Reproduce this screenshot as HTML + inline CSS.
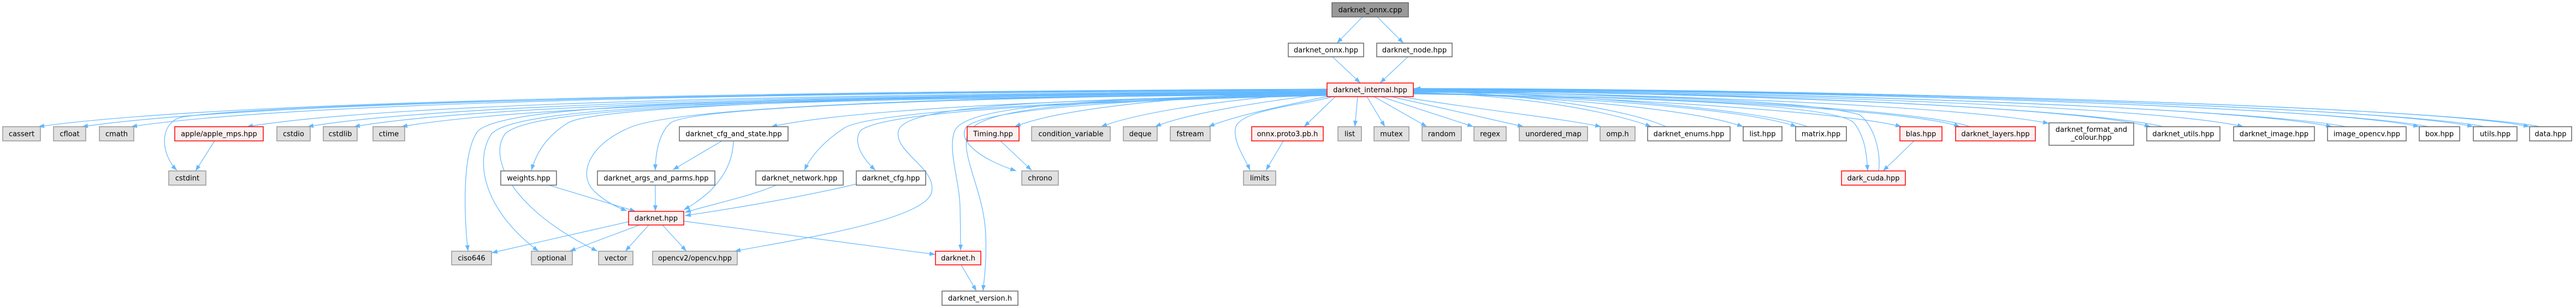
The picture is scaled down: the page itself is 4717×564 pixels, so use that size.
<!DOCTYPE html>
<html>
<head>
<meta charset="utf-8">
<style>
html,body{margin:0;padding:0;background:#fff;}
svg{display:block;}
text{font-family:"DejaVu Sans","Liberation Sans",sans-serif;font-size:13px;fill:#000;text-anchor:middle;}
.e{fill:none;stroke:#63b8ff;stroke-width:1.2;}
.g{fill:#e0e0e0;stroke:#999999;stroke-width:1.5;}
.w{fill:#ffffff;stroke:#666666;stroke-width:1.5;}
.r{fill:#fff0f0;stroke:#ff0000;stroke-width:1.5;}
.k{fill:#999999;stroke:#666666;stroke-width:1.5;}
</style>
</head>
<body>
<svg width="4717" height="564" viewBox="0 0 4717 564" xmlns="http://www.w3.org/2000/svg">
<defs>
<marker id="a" markerWidth="11" markerHeight="8" refX="11" refY="4" orient="auto" markerUnits="userSpaceOnUse">
<path d="M0,0 L11,4 L0,8 z" fill="#63b8ff"/>
</marker>
</defs>
<rect x="0" y="0" width="4717" height="564" fill="#ffffff"/>

<g class="edges" marker-end="url(#a)">
<!-- top -->
<path class="e" marker-end="url(#a)" d="M2495,31 L2448,79"/>
<path class="e" marker-end="url(#a)" d="M2522,31 L2570,79"/>
<path class="e" marker-end="url(#a)" d="M2440,104 L2491,152"/>
<path class="e" marker-end="url(#a)" d="M2578,104 L2527,152"/>

<!-- internal -> left -->
<path class="e" marker-end="url(#a)" d="M2430,163 C1132,169 353,192 70,232"/>
<path class="e" marker-end="url(#a)" d="M2430,164 C1176,170 424,192 150,232"/>
<path class="e" marker-end="url(#a)" d="M2430,165 C1226,171 503,192 240,232"/>
<path class="e" marker-end="url(#a)" d="M2430,166 C1300,170 500,190 335,214 C292,222 292,280 324,312"/>
<path class="e" marker-end="url(#a)" d="M2430,167 C1342,173 689,193 452,232"/>
<path class="e" marker-end="url(#a)" d="M2430,168 C1403,174 787,194 563,232"/>
<path class="e" marker-end="url(#a)" d="M2430,169 C1450,175 862,195 648,232"/>
<path class="e" marker-end="url(#a)" d="M2430,170 C1498,176 938,196 735,232"/>
<path class="e" marker-end="url(#a)" d="M2430,171 C1400,178 930,188 875,240 C845,280 850,400 857,460"/>
<path class="e" marker-end="url(#a)" d="M2430,172 C1400,180 950,192 900,245 C870,290 880,380 986,460"/>
<path class="e" marker-end="url(#a)" d="M2430,173 C1400,181 975,195 925,245 C895,285 930,380 1094,460"/>
<path class="e" marker-end="url(#a)" d="M2430,168 C1600,175 1090,195 1040,225 C1000,250 982,280 973,312"/>
<path class="e" marker-end="url(#a)" d="M2430,170 C1650,178 1220,200 1150,235 C1080,265 1055,320 1090,352 C1110,370 1130,380 1148,386"/>
<path class="e" marker-end="url(#a)" d="M2430,171 C1700,179 1265,198 1228,225 C1205,245 1200,285 1200,312"/>
<path class="e" marker-end="url(#a)" d="M2430,173 C1950,182 1560,200 1412,232"/>
<path class="e" marker-end="url(#a)" d="M2430,174 C1950,184 1590,205 1545,235 C1510,258 1485,285 1473,312"/>
<path class="e" marker-end="url(#a)" d="M2430,175 C1950,186 1610,205 1575,240 C1560,265 1585,295 1603,312"/>
<path class="e" marker-end="url(#a)" d="M2430,174 C1850,182 1655,198 1645,240 C1637,280 1720,310 1705,355 C1685,405 1450,440 1345,460"/>
<path class="e" marker-end="url(#a)" d="M2430,172 C1950,180 1765,198 1748,240 C1735,275 1757,330 1758,380 C1759,420 1759,440 1759,459"/>
<path class="e" marker-end="url(#a)" d="M2430,173 C1960,181 1790,200 1772,245 C1758,285 1802,350 1805,430 C1807,480 1802,510 1800,533"/>
<path class="e" marker-end="url(#a)" d="M2430,174 C2000,182 1800,205 1770,232 C1752,255 1790,290 1861,313"/>
<path class="e" marker-end="url(#a)" d="M2430,167 C2200,174 1950,195 1858,232"/>
<path class="e" marker-end="url(#a)" d="M2430,169 C2290,178 2100,200 2016,232"/>
<path class="e" marker-end="url(#a)" d="M2430,172 C2340,182 2180,205 2115,232"/>
<path class="e" marker-end="url(#a)" d="M2432,176 C2370,190 2265,210 2213,232"/>
<path class="e" marker-end="url(#a)" d="M2440,177 C2390,192 2275,200 2263,232 C2256,258 2280,290 2289,312"/>

<!-- internal -> near right -->
<path class="e" marker-end="url(#a)" d="M2445,177 L2388,232"/>
<path class="e" marker-end="url(#a)" d="M2486,177 L2481,232"/>
<path class="e" marker-end="url(#a)" d="M2503,177 L2536,232"/>
<path class="e" marker-end="url(#a)" d="M2516,177 L2613,232"/>
<path class="e" marker-end="url(#a)" d="M2529,177 L2698,232"/>
<path class="e" marker-end="url(#a)" d="M2548,177 L2790,232"/>
<path class="e" marker-end="url(#a)" d="M2565,177 C2700,200 2850,215 2932,232"/>

<!-- internal -> far right -->
<path class="e" marker-end="url(#a)" d="M2588,169 C2800,175 2950,205 3024,232"/>
<path class="e" marker-end="url(#a)" d="M2588,170 C2850,177 3100,200 3192,232"/>
<path class="e" marker-end="url(#a)" d="M2588,171 C2900,177 3200,200 3290,232"/>
<path class="e" marker-end="url(#a)" d="M2588,170 C2950,177 3380,205 3482,232"/>
<path class="e" marker-end="url(#a)" d="M2588,168 C3000,175 3500,200 3589,232"/>
<path class="e" marker-end="url(#a)" d="M2588,167 C3050,172 3600,195 3752,226"/>
<path class="e" marker-end="url(#a)" d="M2588,166 C3150,170 3800,195 3938,232"/>
<path class="e" marker-end="url(#a)" d="M2588,165 C3200,169 3950,195 4108,232"/>
<path class="e" marker-end="url(#a)" d="M2588,164 C3250,168 4100,195 4270,232"/>
<path class="e" marker-end="url(#a)" d="M2588,163 C3300,166 4250,193 4430,232"/>
<path class="e" marker-end="url(#a)" d="M2588,162 C3330,165 4350,193 4529,232"/>
<path class="e" marker-end="url(#a)" d="M2588,162 C3350,164 4450,193 4632,232"/>
<path class="e" marker-end="url(#a)" d="M2588,172 C3000,178 3360,190 3395,225 C3418,255 3418,290 3420,313"/>

<!-- back edges into internal -->
<path class="e" marker-end="url(#a)" d="M3051,232 C2980,200 2800,172 2590,166"/>
<path class="e" marker-end="url(#a)" d="M3310,232 C3220,200 2900,174 2590,166"/>
<path class="e" marker-end="url(#a)" d="M3607,232 C3520,200 3000,172 2590,165"/>
<path class="e" marker-end="url(#a)" d="M3961,232 C3820,198 3150,168 2590,164"/>
<path class="e" marker-end="url(#a)" d="M4296,232 C4120,198 3250,166 2590,164"/>
<path class="e" marker-end="url(#a)" d="M4447,232 C4270,196 3300,164 2590,163"/>
<path class="e" marker-end="url(#a)" d="M4550,232 C4370,196 3330,163 2590,163"/>
<path class="e" marker-end="url(#a)" d="M4651,232 C4470,196 3350,162 2590,162"/>
<path class="e" marker-end="url(#a)" d="M3440,313 C3445,280 3432,230 3405,210 C3300,180 2900,172 2590,167"/>

<!-- misc -->
<path class="e" marker-end="url(#a)" d="M393,258 L358,313"/>
<path class="e" marker-end="url(#a)" d="M1322,258 L1232,311"/>
<path class="e" marker-end="url(#a)" d="M1343,258 C1342,290 1330,320 1300,350 C1282,366 1266,377 1252,384"/>
<path class="e" marker-end="url(#a)" d="M1421,339 C1380,358 1300,375 1254,389"/>
<path class="e" marker-end="url(#a)" d="M1568,337 C1450,365 1320,385 1254,395"/>
<path class="e" marker-end="url(#a)" d="M1005,339 L1164,387"/>
<path class="e" marker-end="url(#a)" d="M1200,339 L1200,387"/>
<path class="e" marker-end="url(#a)" d="M1151,406 L900,463"/>
<path class="e" marker-end="url(#a)" d="M1171,412 L1043,460"/>
<path class="e" marker-end="url(#a)" d="M1188,412 L1145,460"/>
<path class="e" marker-end="url(#a)" d="M1213,412 L1257,460"/>
<path class="e" marker-end="url(#a)" d="M1252,405 L1713,466"/>
<path class="e" marker-end="url(#a)" d="M1760,485 L1788,533"/>
<path class="e" marker-end="url(#a)" d="M1832,258 L1889,312"/>
<path class="e" marker-end="url(#a)" d="M2350,258 L2318,312"/>
<path class="e" marker-end="url(#a)" d="M3505,258 L3448,313"/>
</g>

<!-- nodes -->
<rect class="k" x="2439" y="5" width="140" height="26"/><text x="2509" y="22.5">darknet_onnx.cpp</text>
<rect class="w" x="2359" y="79" width="138" height="25"/><text x="2428" y="96">darknet_onnx.hpp</text>
<rect class="w" x="2521" y="79" width="138" height="25"/><text x="2590" y="96">darknet_node.hpp</text>
<rect class="r" x="2430" y="152" width="158" height="25"/><text x="2509" y="169">darknet_internal.hpp</text>

<!-- main row -->
<rect class="g" x="5" y="232" width="69" height="26"/><text x="39.5" y="249.5">cassert</text>
<rect class="g" x="98" y="232" width="59" height="26"/><text x="127.5" y="249.5">cfloat</text>
<rect class="g" x="182" y="232" width="63" height="26"/><text x="213.5" y="249.5">cmath</text>
<rect class="r" x="320" y="232" width="162" height="26"/><text x="401" y="249.5">apple/apple_mps.hpp</text>
<rect class="g" x="507" y="232" width="61" height="26"/><text x="537.5" y="249.5">cstdio</text>
<rect class="g" x="592" y="232" width="62" height="26"/><text x="623" y="249.5">cstdlib</text>
<rect class="g" x="683" y="232" width="58" height="26"/><text x="712" y="249.5">ctime</text>
<rect class="w" x="1244" y="232" width="199" height="26"/><text x="1343.5" y="249.5">darknet_cfg_and_state.hpp</text>
<rect class="r" x="1771" y="232" width="95" height="26"/><text x="1818.5" y="249.5">Timing.hpp</text>
<rect class="g" x="1889" y="232" width="144" height="26"/><text x="1961" y="249.5">condition_variable</text>
<rect class="g" x="2057" y="232" width="62" height="26"/><text x="2088" y="249.5">deque</text>
<rect class="g" x="2143" y="232" width="73" height="26"/><text x="2179.5" y="249.5">fstream</text>
<rect class="r" x="2292" y="232" width="131" height="26"/><text x="2357.5" y="249.5">onnx.proto3.pb.h</text>
<rect class="g" x="2450" y="232" width="43" height="26"/><text x="2471.5" y="249.5">list</text>
<rect class="g" x="2516" y="232" width="64" height="26"/><text x="2548" y="249.5">mutex</text>
<rect class="g" x="2604" y="232" width="72" height="26"/><text x="2640" y="249.5">random</text>
<rect class="g" x="2699" y="232" width="59" height="26"/><text x="2728.5" y="249.5">regex</text>
<rect class="g" x="2782" y="232" width="125" height="26"/><text x="2844.5" y="249.5">unordered_map</text>
<rect class="g" x="2930" y="232" width="64" height="26"/><text x="2962" y="249.5">omp.h</text>
<rect class="w" x="3017" y="232" width="151" height="26"/><text x="3092.5" y="249.5">darknet_enums.hpp</text>
<rect class="w" x="3192" y="232" width="71" height="26"/><text x="3227.5" y="249.5">list.hpp</text>
<rect class="w" x="3288" y="232" width="93" height="26"/><text x="3334.5" y="249.5">matrix.hpp</text>
<rect class="r" x="3479" y="232" width="77" height="26"/><text x="3517.5" y="249.5">blas.hpp</text>
<rect class="r" x="3581" y="232" width="146" height="26"/><text x="3654" y="249.5">darknet_layers.hpp</text>
<rect class="w" x="3752" y="225" width="155" height="41"/><text x="3829.5" y="241.5">darknet_format_and</text><text x="3829.5" y="256">_colour.hpp</text>
<rect class="w" x="3931" y="232" width="134" height="26"/><text x="3998" y="249.5">darknet_utils.hpp</text>
<rect class="w" x="4090" y="232" width="148" height="26"/><text x="4164" y="249.5">darknet_image.hpp</text>
<rect class="w" x="4262" y="232" width="144" height="26"/><text x="4334" y="249.5">image_opencv.hpp</text>
<rect class="w" x="4430" y="232" width="74" height="26"/><text x="4467" y="249.5">box.hpp</text>
<rect class="w" x="4529" y="232" width="80" height="26"/><text x="4569" y="249.5">utils.hpp</text>
<rect class="w" x="4632" y="232" width="77" height="26"/><text x="4670.5" y="249.5">data.hpp</text>

<!-- row 3 -->
<rect class="g" x="309" y="313" width="68" height="26"/><text x="343" y="330.5">cstdint</text>
<rect class="w" x="917" y="313" width="102" height="26"/><text x="968" y="330.5">weights.hpp</text>
<rect class="w" x="1094" y="313" width="215" height="26"/><text x="1201.5" y="330.5">darknet_args_and_parms.hpp</text>
<rect class="w" x="1384" y="313" width="160" height="26"/><text x="1464" y="330.5">darknet_network.hpp</text>
<rect class="w" x="1568" y="313" width="127" height="26"/><text x="1631.5" y="330.5">darknet_cfg.hpp</text>
<rect class="g" x="1871" y="313" width="67" height="26"/><text x="1904.5" y="330.5">chrono</text>
<rect class="g" x="2277" y="313" width="59" height="26"/><text x="2306.5" y="330.5">limits</text>
<rect class="r" x="3372" y="313" width="117" height="26"/><text x="3430.5" y="330.5">dark_cuda.hpp</text>

<!-- row 4 -->
<rect class="r" x="1151" y="387" width="101" height="25"/><text x="1201.5" y="404">darknet.hpp</text>

<!-- row 5 -->
<rect class="g" x="827" y="460" width="73" height="25"/><text x="863.5" y="477">ciso646</text>
<rect class="g" x="973" y="460" width="75" height="25"/><text x="1010.5" y="477">optional</text>
<rect class="g" x="1096" y="460" width="63" height="25"/><text x="1127.5" y="477">vector</text>
<rect class="g" x="1195" y="460" width="155" height="25"/><text x="1272.5" y="477">opencv2/opencv.hpp</text>
<rect class="r" x="1713" y="460" width="83" height="25"/><text x="1754.5" y="477">darknet.h</text>

<!-- row 6 -->
<rect class="w" x="1725" y="533" width="139" height="26"/><text x="1794.5" y="550.5">darknet_version.h</text>
</svg>
</body>
</html>
